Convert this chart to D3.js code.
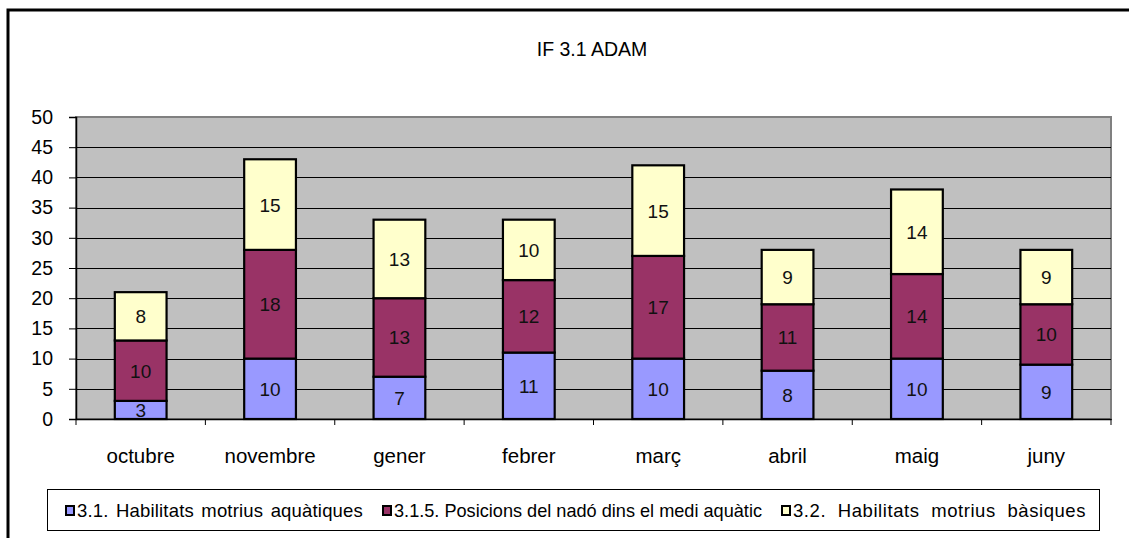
<!DOCTYPE html>
<html>
<head>
<meta charset="utf-8">
<script src="https://cdn.jsdelivr.net/npm/d3@7"></script>
<style>
  html, body { margin: 0; padding: 0; background: #fff; }
  svg { display: block; font-family: "Liberation Sans", Arial, sans-serif; }
</style>
</head>
<body>
<svg id="chart" width="1129" height="538"></svg>
<script>
const title = "IF 3.1 ADAM";
const categories = ["octubre", "novembre", "gener", "febrer", "març", "abril", "maig", "juny"];
const seriesNames = ["3.1. Habilitats motrius aquàtiques", "3.1.5. Posicions del nadó dins el medi aquàtic", "3.2. Habilitats motrius bàsiques"];
const habilitatsAquatiques = [3, 10, 7, 11, 10, 8, 10, 9];
const posicionsNado = [10, 18, 13, 12, 17, 11, 14, 10];
const habilitatsBasiques = [8, 15, 13, 10, 15, 9, 14, 9];
const yTicks = [0, 5, 10, 15, 20, 25, 30, 35, 40, 45, 50];
const colors = ["#9999ff", "#993366", "#ffffcc"];

const svg = d3.select("#chart");
const W = 1129, H = 538;
const FONT = "Liberation Sans, Arial, sans-serif";

// outer frame
svg.append("rect").attr("x", 8).attr("y", 10).attr("width", W + 10).attr("height", H + 10)
  .attr("fill", "#fff").attr("stroke", "#000").attr("stroke-width", 3);

const plot = { left: 76, top: 117, right: 1111, bottom: 419 };

const x = d3.scaleBand().domain(categories).range([plot.left, plot.right]).paddingInner(0.6).paddingOuter(0.3);
const xOuter = d3.scaleBand().domain(categories).range([plot.left, plot.right]);
const y = d3.scaleLinear().domain([0, 50]).range([plot.bottom, plot.top]);

// plot background
svg.append("rect").attr("x", plot.left).attr("y", plot.top)
  .attr("width", plot.right - plot.left).attr("height", plot.bottom - plot.top)
  .attr("fill", "#c0c0c0").attr("stroke", "#808080").attr("stroke-width", 2);

// gridlines
svg.append("g").selectAll("line").data(yTicks.filter(t => t > 0 && t < 50)).join("line")
  .attr("x1", plot.left).attr("x2", plot.right)
  .attr("y1", d => Math.round(y(d)) + 0.5).attr("y2", d => Math.round(y(d)) + 0.5)
  .attr("stroke", "#000").attr("stroke-width", 1);

// title
svg.append("text").attr("x", 592).attr("y", 56).attr("text-anchor", "middle")
  .attr("font-size", 19.5).attr("fill", "#000").text(title);

// stacked data
const rows = categories.map((c, i) => ({ cat: c, s0: habilitatsAquatiques[i], s1: posicionsNado[i], s2: habilitatsBasiques[i] }));
const stack = d3.stack().keys(["s0", "s1", "s2"])(rows);

const g = svg.append("g");
stack.forEach((layer, li) => {
  g.append("g").selectAll("rect").data(layer).join("rect")
    .attr("x", d => x(d.data.cat))
    .attr("y", d => y(d[1]))
    .attr("width", x.bandwidth())
    .attr("height", d => y(d[0]) - y(d[1]))
    .attr("fill", colors[li]).attr("stroke", "#000").attr("stroke-width", 2.2);
});
stack.forEach((layer, li) => {
  g.append("g").selectAll("text").data(layer).join("text")
    .attr("x", d => x(d.data.cat) + x.bandwidth() / 2)
    .attr("y", d => (y(d[0]) + y(d[1])) / 2 + 7)
    .attr("text-anchor", "middle").attr("font-size", 19).attr("fill", "#111")
    .text(d => d[1] - d[0]);
});

// y axis
const yAxis = svg.append("g").attr("transform", `translate(${plot.left},0)`)
  .call(d3.axisLeft(y).tickValues(yTicks).tickSize(7).tickPadding(16));
yAxis.select(".domain").attr("stroke", "#000").attr("stroke-width", 1.5);
yAxis.selectAll(".tick line").attr("stroke", "#000");
yAxis.selectAll(".tick text").attr("font-size", 19.5).attr("font-family", FONT).attr("fill", "#000");

// x axis
const xAxis = svg.append("g").attr("transform", `translate(0,${plot.bottom})`)
  .call(d3.axisBottom(xOuter).tickSize(0).tickPadding(29));
xAxis.select(".domain").attr("stroke", "#000").attr("stroke-width", 1.5);
xAxis.selectAll(".tick text").attr("font-size", 20.5).attr("font-family", FONT).attr("fill", "#000");
// tick marks at band boundaries
const bounds = categories.map(c => xOuter(c)).concat([plot.right]);
svg.append("g").selectAll("line").data(bounds).join("line")
  .attr("x1", d => d).attr("x2", d => d)
  .attr("y1", plot.bottom).attr("y2", plot.bottom + 6)
  .attr("stroke", "#000").attr("stroke-width", 1);

// legend
const legend = svg.append("g");
legend.append("rect").attr("x", 47.5).attr("y", 489.5).attr("width", 1052).attr("height", 41)
  .attr("fill", "#fff").attr("stroke", "#000").attr("stroke-width", 1);
const legendX = [66, 383, 782];
const legendEnd = 1086;
seriesNames.forEach((n, i) => {
  const gi = legend.append("g").attr("transform", `translate(${legendX[i]},0)`);
  gi.append("rect").attr("x", 0).attr("y", 506).attr("width", 8).attr("height", 9)
    .attr("fill", colors[i]).attr("stroke", "#000").attr("stroke-width", 2);
  const avail = (i < 2 ? legendX[i + 1] - 20 : legendEnd) - legendX[i] - 11;
  const t = gi.append("text").attr("x", 11).attr("y", 517)
    .attr("font-size", 18.5).attr("fill", "#000").text(n);
  const natural = t.node().getComputedTextLength();
  const spaces = (n.match(/ /g) || []).length;
  const extra = avail - natural;
  if (extra > 0) {
    t.attr("word-spacing", (extra * 0.5) / spaces)
     .attr("letter-spacing", (extra * 0.5) / n.length);
  } else {
    t.attr("textLength", avail).attr("lengthAdjust", "spacingAndGlyphs");
  }
});
</script>
</body>
</html>
